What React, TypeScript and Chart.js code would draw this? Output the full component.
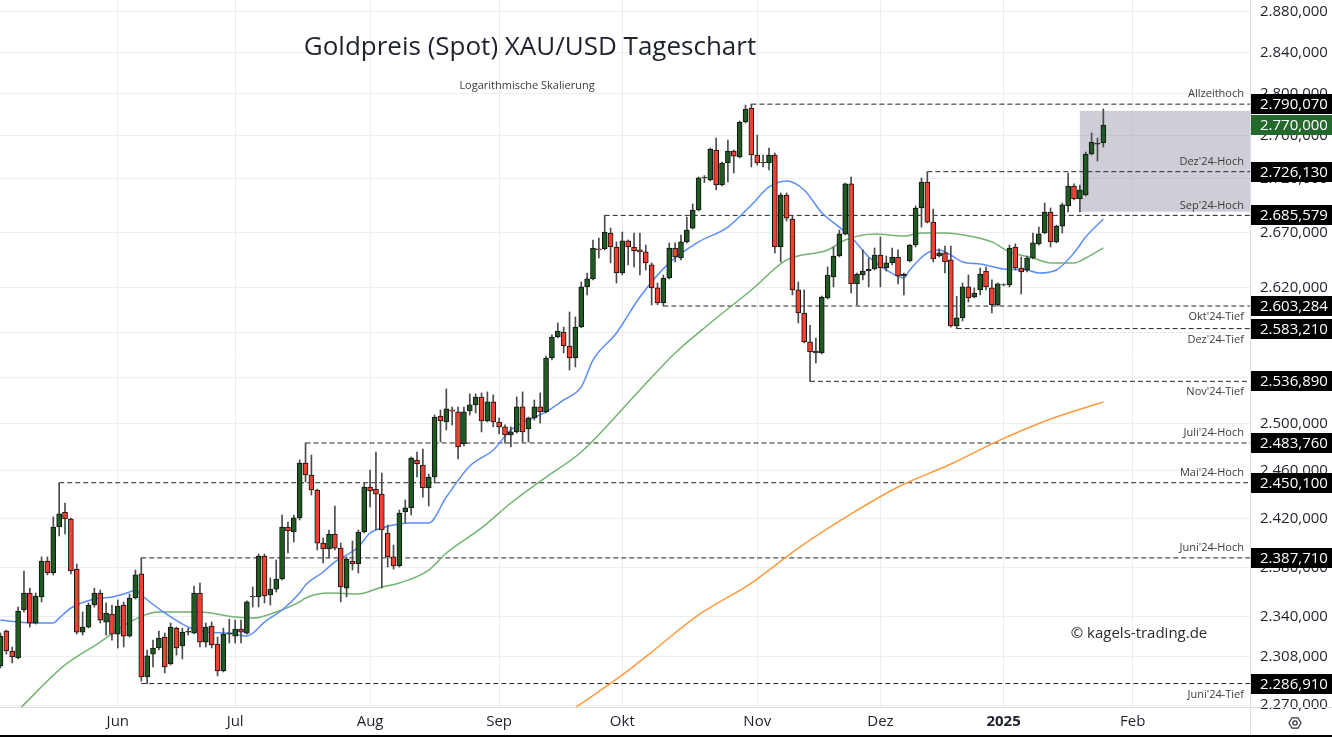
import React, { useEffect, useRef } from 'react';
import { Chart, registerables } from 'chart.js';

Chart.register(...registerables);

// ---------- Daily candles (6 May 2024 – 24 Jan 2025) ----------
const opens = [
  2300.8, 2328.5, 2312.6, 2307.1, 2345.4, 2359.1, 2334.9, 2355.9, 2385.2, 2375.4,
  2413.2, 2425.6, 2419.8, 2378.6, 2327.7, 2331.7, 2349.4, 2359.1, 2335.7, 2342.2,
  2326.1, 2349.4, 2324.5, 2355.1, 2374.6, 2292.1, 2310.2, 2315.0, 2323.7, 2302.4,
  2330.9, 2316.6, 2327.7, 2326.9, 2359.1, 2319.7, 2332.5, 2318.2, 2296.8, 2326.1,
  2324.5, 2330.1, 2326.9, 2355.9, 2355.9, 2389.3, 2357.5, 2362.3, 2370.5, 2413.2,
  2409.0, 2420.7, 2466.7, 2456.6, 2444.0, 2399.9, 2395.0, 2407.4, 2395.8, 2363.1,
  2385.2, 2382.7, 2409.0, 2446.5, 2444.8, 2440.6, 2408.2, 2388.5, 2381.1, 2425.6,
  2429.0, 2469.3, 2465.1, 2445.7, 2454.9, 2506.9, 2501.7, 2512.1, 2510.4, 2483.0,
  2511.3, 2516.4, 2523.3, 2502.6, 2519.0, 2501.7, 2497.5, 2490.6, 2493.2, 2514.7,
  2495.7, 2505.2, 2514.7, 2510.4, 2557.3, 2575.8, 2580.2, 2567.8, 2557.3, 2584.6,
  2620.4, 2627.6, 2654.8, 2654.8, 2669.4, 2656.6, 2633.0, 2662.1, 2656.6, 2653.9,
  2652.1, 2640.3, 2619.5, 2606.0, 2628.5, 2655.7, 2646.6, 2661.2, 2673.9, 2690.5,
  2720.3, 2718.4, 2746.5, 2713.7, 2734.3, 2745.5, 2739.9, 2773.0, 2786.3, 2741.8,
  2734.3, 2734.3, 2741.8, 2656.6, 2704.4, 2682.2, 2617.7, 2597.1, 2571.4, 2563.4,
  2561.7, 2610.5, 2629.4, 2648.4, 2668.5, 2714.7, 2623.1, 2631.2, 2634.8, 2636.6,
  2649.3, 2637.5, 2642.1, 2647.5, 2630.3, 2643.9, 2658.4, 2692.4, 2716.5, 2679.4,
  2648.4, 2651.2, 2644.8, 2585.5, 2592.7, 2620.4, 2611.4, 2617.7, 2634.8, 2619.5,
  2604.2, 2622.2, 2622.2, 2656.6, 2637.5, 2635.7, 2646.6, 2659.4, 2669.4, 2688.7,
  2661.2, 2675.7, 2694.3, 2712.8, 2700.7, 2704.4, 2742.7, 2752.1, 2753.1,
];
const highs = [
  2326.9, 2329.3, 2315.8, 2347.8, 2377.0, 2363.1, 2359.1, 2388.5, 2388.5, 2421.5,
  2450.1, 2433.1, 2420.5, 2382.7, 2343.8, 2351.1, 2363.1, 2361.5, 2351.1, 2349.4,
  2353.5, 2351.9, 2358.3, 2377.8, 2387.71, 2313.4, 2321.3, 2328.5, 2326.9, 2334.9,
  2331.7, 2330.9, 2330.9, 2364.8, 2367.2, 2334.9, 2335.7, 2323.7, 2330.9, 2338.1,
  2337.3, 2337.3, 2352.7, 2364.0, 2390.9, 2390.9, 2371.3, 2386.0, 2423.1, 2417.3,
  2423.1, 2469.3, 2483.76, 2473.5, 2444.8, 2404.1, 2410.7, 2430.6, 2399.9, 2388.5,
  2401.6, 2410.7, 2449.9, 2460.8, 2476.1, 2458.3, 2414.8, 2398.3, 2427.3, 2435.6,
  2471.8, 2476.1, 2478.6, 2457.4, 2507.7, 2512.1, 2530.3, 2514.6, 2514.6, 2514.6,
  2526.0, 2526.0, 2526.8, 2527.7, 2525.1, 2505.2, 2499.2, 2497.5, 2523.3, 2527.7,
  2506.0, 2520.7, 2526.8, 2559.0, 2577.6, 2588.2, 2584.6, 2598.0, 2593.6, 2624.9,
  2633.0, 2663.0, 2664.8, 2685.579, 2673.9, 2661.2, 2670.3, 2663.0, 2669.4, 2669.4,
  2658.4, 2642.1, 2624.0, 2631.2, 2660.3, 2660.3, 2667.5, 2684.1, 2696.1, 2721.2,
  2722.5, 2748.4, 2757.8, 2735.2, 2755.9, 2746.5, 2774.0, 2789.2, 2790.07, 2760.6,
  2741.8, 2748.4, 2743.6, 2706.3, 2706.3, 2685.0, 2624.9, 2617.7, 2586.0, 2574.9,
  2612.3, 2638.4, 2656.6, 2672.1, 2715.6, 2721.2, 2633.0, 2653.9, 2646.6, 2655.7,
  2665.7, 2648.4, 2655.7, 2653.9, 2633.0, 2658.9, 2694.3, 2720.3, 2726.13, 2691.4,
  2654.8, 2657.5, 2657.5, 2612.0, 2624.0, 2631.2, 2619.5, 2637.5, 2638.4, 2626.7,
  2624.0, 2623.1, 2658.4, 2659.4, 2647.5, 2648.4, 2669.4, 2674.8, 2697.0, 2692.4,
  2676.6, 2697.0, 2724.9, 2714.7, 2713.7, 2744.6, 2762.6, 2757.8, 2785.5,
];
const lows = [
  2299.2, 2310.2, 2303.1, 2306.3, 2343.8, 2331.7, 2334.1, 2351.9, 2373.8, 2373.8,
  2405.7, 2407.4, 2374.6, 2326.1, 2325.3, 2330.9, 2347.8, 2334.9, 2325.3, 2321.3,
  2315.0, 2315.8, 2323.7, 2354.3, 2288.9, 2286.91, 2300.0, 2313.4, 2295.3, 2301.6,
  2309.4, 2306.3, 2325.3, 2326.5, 2315.8, 2315.8, 2315.0, 2292.9, 2296.0, 2319.0,
  2319.0, 2319.0, 2326.1, 2347.8, 2347.8, 2351.1, 2349.4, 2359.9, 2369.7, 2391.7,
  2400.8, 2419.0, 2450.7, 2439.8, 2394.2, 2383.5, 2387.7, 2394.2, 2351.9, 2355.9,
  2377.8, 2375.4, 2408.2, 2429.8, 2410.7, 2363.1, 2380.2, 2378.6, 2380.2, 2416.5,
  2423.1, 2454.9, 2438.1, 2430.6, 2449.9, 2484.6, 2494.9, 2499.1, 2470.2, 2481.3,
  2507.7, 2509.5, 2493.2, 2501.7, 2497.5, 2491.5, 2483.7, 2480.4, 2492.3, 2484.6,
  2484.6, 2503.4, 2500.8, 2509.5, 2555.5, 2575.0, 2561.7, 2546.8, 2549.4, 2584.0,
  2613.2, 2626.7, 2646.6, 2654.0, 2642.1, 2624.0, 2631.2, 2640.3, 2638.4, 2631.2,
  2635.7, 2604.2, 2604.5, 2603.284, 2627.6, 2643.0, 2644.8, 2660.3, 2673.0, 2689.6,
  2716.0, 2717.5, 2709.1, 2712.8, 2716.5, 2724.9, 2739.0, 2772.0, 2730.5, 2732.4,
  2730.5, 2727.7, 2651.2, 2643.0, 2680.4, 2613.2, 2588.2, 2570.5, 2536.89, 2552.9,
  2560.8, 2609.6, 2620.4, 2647.5, 2667.5, 2615.0, 2604.2, 2626.7, 2620.4, 2635.7,
  2620.4, 2634.8, 2640.3, 2623.1, 2613.2, 2643.0, 2656.6, 2674.8, 2678.5, 2643.0,
  2647.5, 2633.0, 2584.5, 2583.21, 2590.0, 2606.9, 2610.5, 2613.2, 2617.7, 2597.1,
  2603.3, 2621.3, 2620.4, 2635.7, 2614.1, 2633.9, 2645.7, 2658.4, 2668.6, 2656.6,
  2660.3, 2669.4, 2688.7, 2699.8, 2688.7, 2703.5, 2741.8, 2736.2, 2749.3,
];
const closes = [
  2324.5, 2312.6, 2307.9, 2344.6, 2359.1, 2334.9, 2356.7, 2385.2, 2375.4, 2413.2,
  2424.0, 2419.8, 2377.0, 2327.7, 2331.7, 2349.4, 2359.1, 2337.3, 2343.0, 2326.1,
  2348.6, 2324.5, 2355.1, 2373.8, 2292.1, 2308.7, 2315.0, 2322.9, 2300.0, 2331.7,
  2315.0, 2327.7, 2328.2, 2359.1, 2319.7, 2331.7, 2317.4, 2296.8, 2326.1, 2326.9,
  2330.1, 2327.7, 2351.9, 2356.4, 2389.3, 2356.7, 2362.3, 2370.5, 2413.2, 2409.9,
  2420.7, 2466.7, 2456.6, 2444.0, 2399.9, 2395.0, 2407.4, 2395.8, 2364.0, 2386.8,
  2382.7, 2409.0, 2446.5, 2443.2, 2440.6, 2410.7, 2388.5, 2381.1, 2424.8, 2429.0,
  2471.0, 2465.9, 2445.7, 2454.9, 2506.0, 2502.6, 2513.0, 2511.0, 2480.4, 2510.4,
  2516.4, 2523.3, 2502.6, 2519.0, 2501.7, 2497.5, 2490.6, 2493.2, 2514.7, 2493.2,
  2505.2, 2514.7, 2510.4, 2557.3, 2575.8, 2581.1, 2567.8, 2557.3, 2584.6, 2620.4,
  2627.6, 2655.7, 2654.0, 2670.3, 2656.6, 2633.0, 2662.1, 2656.6, 2653.0, 2652.1,
  2642.1, 2619.5, 2606.0, 2628.5, 2655.7, 2647.5, 2661.2, 2672.1, 2690.5, 2720.3,
  2720.9, 2747.4, 2713.7, 2734.3, 2745.5, 2740.8, 2773.0, 2785.4, 2741.8, 2734.3,
  2734.9, 2741.8, 2656.6, 2704.4, 2683.1, 2617.7, 2597.1, 2571.4, 2562.6, 2561.7,
  2611.4, 2631.2, 2648.4, 2668.5, 2714.7, 2623.1, 2632.1, 2634.8, 2636.6, 2649.3,
  2637.5, 2642.1, 2647.5, 2630.3, 2632.1, 2658.4, 2692.4, 2716.5, 2679.4, 2645.7,
  2651.2, 2643.0, 2585.5, 2592.7, 2620.4, 2610.5, 2615.0, 2632.1, 2620.4, 2604.2,
  2623.1, 2622.6, 2655.7, 2637.5, 2633.9, 2646.6, 2660.3, 2668.5, 2688.7, 2661.2,
  2675.7, 2695.2, 2712.8, 2700.7, 2709.1, 2742.7, 2754.0, 2753.1, 2770.0,
];

// ---------- Time axis ----------
const monthTickIdx = [20, 40, 63, 85, 106, 129, 150, 171, 193];
const monthLabels = ['Jun', 'Jul', 'Aug', 'Sep', 'Okt', 'Nov', 'Dez', '2025', 'Feb'];

// ---------- Price axis ----------
const priceTicks = [2880, 2840, 2800, 2760, 2720, 2670, 2620, 2580, 2540, 2500, 2460, 2420, 2380, 2340, 2308, 2270];

// ---------- Moving averages ----------
const maFastIdx = [0, 3, 6, 9, 10, 12, 16, 19, 22, 23, 24, 28, 32, 35, 39, 42, 43, 45, 48, 51, 52, 55, 57, 61, 63, 65, 70, 73, 76, 80, 84, 87, 93, 96, 99, 101, 105, 109, 114, 119, 124, 128, 131, 134, 137, 140, 143, 145, 148, 151, 154, 155, 158, 160, 162, 164, 167, 171, 175, 177, 180, 183, 185, 188];
const maFastVal = [2337.3, 2335.7, 2334.9, 2334.9, 2338.9, 2347.0, 2354.3, 2355.9, 2359.9, 2361.5, 2357.5, 2343.0, 2331.7, 2327.7, 2326.9, 2324.5, 2326.9, 2335.7, 2345.4, 2359.1, 2365.6, 2376.2, 2384.4, 2396.7, 2408.2, 2412.4, 2416.5, 2416.5, 2438.1, 2464.2, 2477.8, 2494.9, 2510.4, 2520.7, 2532.0, 2555.5, 2579.3, 2611.4, 2642.1, 2661.2, 2674.8, 2695.2, 2711.9, 2717.5, 2709.1, 2688.0, 2674.8, 2665.7, 2647.5, 2635.7, 2628.5, 2635.7, 2651.2, 2653.9, 2649.3, 2643.0, 2641.2, 2636.6, 2635.7, 2633.0, 2635.7, 2651.2, 2665.7, 2682.2];
const maMidIdx = [3, 11, 17, 22, 27, 34, 40, 43, 47, 51, 52, 56, 61, 65, 68, 73, 76, 82, 87, 93, 99, 109, 115, 121, 128, 134, 141, 144, 149, 154, 157, 161, 166, 169, 172, 176, 179, 183, 185, 188];
const maMidVal = [2266.0, 2301.6, 2319.7, 2335.7, 2343.8, 2343.8, 2339.7, 2338.9, 2343.8, 2351.9, 2355.1, 2359.1, 2358.3, 2364.0, 2367.2, 2377.8, 2391.7, 2412.4, 2433.1, 2454.9, 2476.1, 2529.4, 2561.7, 2588.2, 2617.7, 2644.8, 2653.9, 2663.0, 2668.5, 2666.6, 2669.4, 2669.4, 2665.7, 2661.2, 2652.1, 2646.6, 2642.1, 2642.1, 2646.6, 2655.7];
const maSlowIdx = [97, 106, 111, 119, 128, 136, 145, 153, 162, 170, 179, 188];
const maSlowVal = [2265.0, 2293.7, 2311.8, 2341.4, 2367.2, 2395.8, 2424.0, 2446.5, 2465.9, 2485.4, 2504.3, 2519.0];

// ---------- Marked levels ----------
const levelValues = [2790.07, 2726.13, 2685.579, 2603.284, 2583.21, 2536.89, 2483.76, 2450.10, 2387.71, 2286.91];
const levelNames = ['Allzeithoch', "Dez'24-Hoch", "Sep'24-Hoch", "Okt'24-Tief", "Dez'24-Tief", "Nov'24-Tief", "Juli'24-Hoch", "Mai'24-Hoch", "Juni'24-Hoch", "Juni'24-Tief"];
const levelStartIdx = [128, 158, 103, 113, 163, 138, 52, 10, 24, 24];
const levelLabelAbove = [true, true, true, false, false, false, true, true, true, false];

// shaded zone of the latest breakout
const zoneStartIdx = 184.0;
const zoneHigh = 2783.7;
const zoneLow = 2688.9;

const TITLE = 'Goldpreis (Spot) XAU/USD Tageschart';
const SUBTITLE = 'Logarithmische Skalierung';
const WATERMARK = '\u00A9 kagels-trading.de';

const X_MIN = -0.085;
const X_MAX = 213.0;
const Y_MIN = 2268.6;
const Y_MAX = 2891.6;
const FONT = "'Open Sans', 'DejaVu Sans', sans-serif";

function fmtDe(v: number): string {
  const parts = v.toFixed(3).split('.');
  return parts[0].replace(/\B(?=(\d{3})+(?!\d))/g, '.') + ',' + parts[1];
}

const overlayPlugin = {
  id: 'overlay',
  beforeDatasetsDraw(chart: any) {
    const { ctx, chartArea: a, scales } = chart;
    const xs = scales.x;
    const ys = scales.y;
    ctx.save();
    const zx = xs.getPixelForValue(zoneStartIdx);
    const zt = ys.getPixelForValue(zoneHigh);
    const zb = ys.getPixelForValue(zoneLow);
    ctx.fillStyle = 'rgba(155,155,171,0.49)';
    ctx.fillRect(zx, zt, a.right - zx, zb - zt);

    ctx.textAlign = 'center';
    ctx.textBaseline = 'middle';
    ctx.fillStyle = '#1e222d';
    ctx.font = `26px ${FONT}`;
    ctx.fillText(TITLE, 530, 48);
    ctx.fillStyle = '#3a3a3a';
    ctx.font = `11px ${FONT}`;
    ctx.fillText(SUBTITLE, 527, 86);
    ctx.fillStyle = '#2a2a2a';
    ctx.font = `15px ${FONT}`;
    ctx.fillText(WATERMARK, 1139, 634);
    ctx.restore();
  },
  afterDraw(chart: any) {
    const { ctx, chartArea: a, scales } = chart;
    const ys = scales.y;
    const W = chart.width;
    const H = chart.height;
    ctx.save();
    ctx.strokeStyle = '#dcdfe6';
    ctx.lineWidth = 1;
    ctx.beginPath();
    ctx.moveTo(0, a.bottom + 0.5);
    ctx.lineTo(W, a.bottom + 0.5);
    ctx.moveTo(a.right + 0.5, 0);
    ctx.lineTo(a.right + 0.5, H);
    ctx.stroke();

    ctx.font = `11px ${FONT}`;
    ctx.fillStyle = '#3b3b3b';
    ctx.textAlign = 'right';
    ctx.textBaseline = 'middle';
    levelValues.forEach((v, k) => {
      const py = ys.getPixelForValue(v);
      ctx.fillText(levelNames[k], a.right - 6, py + (levelLabelAbove[k] ? -10 : 11));
    });

    const lastClose = closes[closes.length - 1];
    const boxes = levelValues.map((v) => ({ v, c: '#000000' }));
    boxes.push({ v: lastClose, c: '#22692b' });
    ctx.font = `15px ${FONT}`;
    ctx.textAlign = 'left';
    boxes.forEach((b) => {
      const py = Math.round(ys.getPixelForValue(b.v));
      ctx.fillStyle = b.c;
      ctx.fillRect(a.right + 1, py - 10, W - a.right - 1, 20);
      ctx.fillStyle = '#ffffff';
      ctx.fillText(fmtDe(b.v), a.right + 10, py + 1);
    });

    // settings icon
    const cx = a.right + 45;
    const cy = a.bottom + 16;
    ctx.strokeStyle = '#2a2e39';
    ctx.lineWidth = 1.2;
    ctx.beginPath();
    for (let k = 0; k < 6; k++) {
      const ang = (Math.PI / 3) * k;
      const px = cx + 6 * Math.cos(ang);
      const py = cy + 6 * Math.sin(ang);
      if (k === 0) ctx.moveTo(px, py); else ctx.lineTo(px, py);
    }
    ctx.closePath();
    ctx.stroke();
    ctx.beginPath();
    ctx.arc(cx, cy, 2.2, 0, Math.PI * 2);
    ctx.stroke();

    ctx.fillStyle = '#000000';
    ctx.fillRect(0, H - 2, W, 2);
    ctx.restore();
  },
};

export default function App() {
  const ref = useRef<HTMLCanvasElement>(null);
  useEffect(() => {
    document.body.style.margin = '0';
    const canvas = ref.current;
    if (!canvas) return;
    const idx = opens.map((_, i) => i);
    const bodies = idx.map((i) => ({ x: i, y: [opens[i], closes[i]] }));
    const wicks = idx.map((i) => ({ x: i, y: [lows[i], highs[i]] }));
    const bodyColors = idx.map((i) => (closes[i] >= opens[i] ? '#1f5a22' : '#f0402f'));

    const levelSets = levelValues.map((v, k) => ({
      type: 'line',
      data: [{ x: levelStartIdx[k], y: v }, { x: X_MAX, y: v }],
      borderColor: '#222222',
      borderWidth: 1,
      borderDash: [5, 3],
      pointRadius: 0,
      order: 5,
    }));

    const chart = new Chart(canvas, {
      type: 'bar',
      data: {
        datasets: [
          {
            type: 'bar',
            data: bodies,
            backgroundColor: bodyColors,
            borderColor: '#111111',
            borderWidth: 1,
            borderSkipped: false,
            barThickness: 5,
            grouped: false,
            order: 1,
          },
          {
            type: 'bar',
            data: wicks,
            backgroundColor: '#4b4b4b',
            borderWidth: 0,
            barThickness: 1,
            grouped: false,
            order: 2,
          },
          {
            type: 'line',
            data: maFastIdx.map((x, k) => ({ x, y: maFastVal[k] })),
            borderColor: '#5b8df9',
            borderWidth: 1.5,
            pointRadius: 0,
            cubicInterpolationMode: 'monotone',
            order: 3,
          },
          {
            type: 'line',
            data: maMidIdx.map((x, k) => ({ x, y: maMidVal[k] })),
            borderColor: '#72b472',
            borderWidth: 1.5,
            pointRadius: 0,
            cubicInterpolationMode: 'monotone',
            order: 3,
          },
          {
            type: 'line',
            data: maSlowIdx.map((x, k) => ({ x, y: maSlowVal[k] })),
            borderColor: '#ff9a3c',
            borderWidth: 1.5,
            pointRadius: 0,
            cubicInterpolationMode: 'monotone',
            order: 3,
          },
          ...levelSets,
        ] as any,
      },
      options: {
        responsive: false,
        maintainAspectRatio: false,
        animation: false,
        events: [],
        layout: { padding: 0 },
        plugins: { legend: { display: false }, tooltip: { enabled: false }, title: { display: false } },
        scales: {
          x: {
            type: 'linear',
            min: X_MIN,
            max: X_MAX,
            bounds: 'data',
            offset: false,
            grid: { color: '#ececf1', drawTicks: false, offset: false },
            border: { display: false },
            afterBuildTicks: (s: any) => {
              s.ticks = monthTickIdx.map((v) => ({ value: v }));
            },
            afterFit: (s: any) => {
              s.height = 30;
              s.paddingLeft = 0;
              s.paddingRight = 0;
            },
            ticks: {
              padding: 6,
              color: '#1e222d',
              maxRotation: 0,
              autoSkip: false,
              font: (c: any) => ({ family: FONT, size: 15, weight: monthLabels[c.index] === '2025' ? 'bold' : 'normal' }),
              callback: (v: any) => {
                const k = monthTickIdx.indexOf(Number(v));
                return k >= 0 ? monthLabels[k] : '';
              },
            },
          },
          y: {
            type: 'logarithmic',
            position: 'right',
            min: Y_MIN,
            max: Y_MAX,
            bounds: 'data',
            beginAtZero: false,
            grid: { color: '#ececf1', drawTicks: false },
            border: { display: false },
            afterBuildTicks: (s: any) => {
              s.ticks = priceTicks.map((v) => ({ value: v }));
            },
            afterFit: (s: any) => {
              s.width = 82;
              s.paddingTop = 0;
              s.paddingBottom = 0;
            },
            ticks: {
              padding: 10,
              color: '#1e222d',
              autoSkip: false,
              font: { family: FONT, size: 15 },
              callback: (v: any) => fmtDe(Number(v)),
            },
          },
        },
      } as any,
      plugins: [overlayPlugin],
    } as any);
    return () => chart.destroy();
  }, []);
  return (
    <div style={{ position: 'fixed', left: 0, top: 0, width: 1332, height: 737, background: '#ffffff' }}>
      <canvas ref={ref} width={1332} height={737} style={{ display: 'block' }} />
    </div>
  );
}
